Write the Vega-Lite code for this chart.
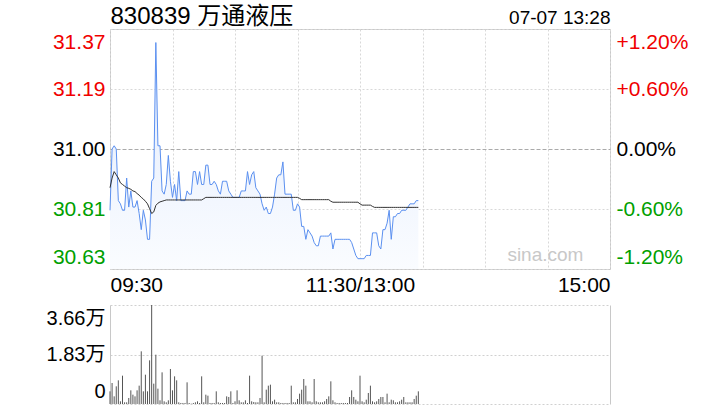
{
"$schema": "https://vega.github.io/schema/vega-lite/v6.json",
"background": "white",
"padding": {"left": 46, "top": 3, "right": 10, "bottom": 5},
"bounds": "flush",
"spacing": 36,
"config": {"font": "Liberation Sans, Noto Sans CJK SC", "view": {"stroke": "#c8c8c8"}, "axis": {"labelFont": "Liberation Sans, Noto Sans CJK SC", "titleFont": "Liberation Sans, Noto Sans CJK SC"}},
"data": {"values": [
{"m":0,"p":30.81,"avg":30.88,"v":4680},{"m":1,"p":31.00,"avg":30.91,"v":7760},{"m":2,"p":31.01,"avg":30.93,"v":2830},{"m":3,"p":31.00,"avg":30.92,"v":6530},{"m":4,"p":30.84,"avg":30.91,"v":8750},{"m":5,"p":30.83,"avg":30.895,"v":990},{"m":6,"p":30.81,"avg":30.89,"v":10470},{"m":7,"p":30.81,"avg":30.885,"v":620},{"m":8,"p":30.91,"avg":30.88,"v":620},{"m":9,"p":30.82,"avg":30.878,"v":2220},
{"m":10,"p":30.87,"avg":30.875,"v":5050},{"m":11,"p":30.82,"avg":30.87,"v":3450},{"m":12,"p":30.82,"avg":30.868,"v":2830},{"m":13,"p":30.84,"avg":30.862,"v":5050},{"m":14,"p":30.80,"avg":30.857,"v":6780},{"m":15,"p":30.75,"avg":30.85,"v":19470},{"m":16,"p":30.81,"avg":30.845,"v":4680},{"m":17,"p":30.78,"avg":30.838,"v":10840},{"m":18,"p":30.72,"avg":30.83,"v":4680},{"m":19,"p":30.72,"avg":30.815,"v":16140},
{"m":20,"p":30.90,"avg":30.80,"v":36600},{"m":21,"p":30.91,"avg":30.805,"v":7520},{"m":22,"p":31.33,"avg":30.825,"v":18230},{"m":23,"p":31.01,"avg":30.832,"v":5670},{"m":24,"p":31.01,"avg":30.836,"v":1360},{"m":25,"p":30.87,"avg":30.838,"v":11700},{"m":26,"p":30.86,"avg":30.84,"v":990},{"m":27,"p":30.89,"avg":30.842,"v":620},{"m":28,"p":30.98,"avg":30.842,"v":1360},{"m":29,"p":30.90,"avg":30.842,"v":12940},
{"m":30,"p":30.85,"avg":30.842,"v":5050},{"m":31,"p":30.89,"avg":30.842,"v":10230},{"m":32,"p":30.84,"avg":30.842,"v":8750},{"m":33,"p":30.93,"avg":30.842,"v":620},{"m":34,"p":30.84,"avg":30.842,"v":370},{"m":35,"p":30.84,"avg":30.842,"v":370},{"m":36,"p":30.84,"avg":30.842,"v":370},{"m":37,"p":30.87,"avg":30.842,"v":8010},{"m":38,"p":30.86,"avg":30.842,"v":370},{"m":39,"p":30.86,"avg":30.842,"v":120},
{"m":40,"p":30.93,"avg":30.842,"v":370},{"m":41,"p":30.93,"avg":30.842,"v":620},{"m":42,"p":30.89,"avg":30.842,"v":990},{"m":43,"p":30.93,"avg":30.842,"v":370},{"m":44,"p":30.89,"avg":30.842,"v":10230},{"m":45,"p":30.89,"avg":30.846,"v":620},{"m":46,"p":30.95,"avg":30.85,"v":3450},{"m":47,"p":30.95,"avg":30.85,"v":3080},{"m":48,"p":30.89,"avg":30.85,"v":370},{"m":49,"p":30.89,"avg":30.85,"v":370},
{"m":50,"p":30.90,"avg":30.85,"v":370},{"m":51,"p":30.89,"avg":30.85,"v":4680},{"m":52,"p":30.87,"avg":30.85,"v":620},{"m":53,"p":30.86,"avg":30.85,"v":370},{"m":54,"p":30.90,"avg":30.85,"v":370},{"m":55,"p":30.90,"avg":30.85,"v":370},{"m":56,"p":30.90,"avg":30.85,"v":2830},{"m":57,"p":30.87,"avg":30.85,"v":2590},{"m":58,"p":30.86,"avg":30.85,"v":4680},{"m":59,"p":30.85,"avg":30.85,"v":370},
{"m":60,"p":30.85,"avg":30.85,"v":990},{"m":61,"p":30.85,"avg":30.85,"v":5050},{"m":62,"p":30.85,"avg":30.85,"v":1360},{"m":63,"p":30.87,"avg":30.85,"v":620},{"m":64,"p":30.87,"avg":30.85,"v":620},{"m":65,"p":30.87,"avg":30.85,"v":1360},{"m":66,"p":30.93,"avg":30.85,"v":370},{"m":67,"p":30.89,"avg":30.85,"v":10470},{"m":68,"p":30.92,"avg":30.85,"v":990},{"m":69,"p":30.93,"avg":30.85,"v":740},
{"m":70,"p":30.88,"avg":30.85,"v":620},{"m":71,"p":30.87,"avg":30.85,"v":620},{"m":72,"p":30.86,"avg":30.85,"v":2220},{"m":73,"p":30.83,"avg":30.85,"v":17860},{"m":74,"p":30.81,"avg":30.85,"v":620},{"m":75,"p":30.82,"avg":30.85,"v":5300},{"m":76,"p":30.80,"avg":30.85,"v":6780},{"m":77,"p":30.80,"avg":30.85,"v":7150},{"m":78,"p":30.82,"avg":30.85,"v":990},{"m":79,"p":30.86,"avg":30.85,"v":1600},
{"m":80,"p":30.91,"avg":30.85,"v":620},{"m":81,"p":30.92,"avg":30.85,"v":620},{"m":82,"p":30.92,"avg":30.85,"v":370},{"m":83,"p":30.96,"avg":30.85,"v":370},{"m":84,"p":30.86,"avg":30.85,"v":370},{"m":85,"p":30.86,"avg":30.85,"v":370},{"m":86,"p":30.86,"avg":30.85,"v":370},{"m":87,"p":30.86,"avg":30.85,"v":6780},{"m":88,"p":30.81,"avg":30.85,"v":620},{"m":89,"p":30.81,"avg":30.85,"v":620},
{"m":90,"p":30.83,"avg":30.85,"v":1850},{"m":91,"p":30.82,"avg":30.847,"v":3820},{"m":92,"p":30.76,"avg":30.843,"v":5300},{"m":93,"p":30.76,"avg":30.843,"v":9240},{"m":94,"p":30.72,"avg":30.843,"v":6780},{"m":95,"p":30.75,"avg":30.843,"v":990},{"m":96,"p":30.74,"avg":30.843,"v":990},{"m":97,"p":30.73,"avg":30.843,"v":620},{"m":98,"p":30.71,"avg":30.843,"v":9240},{"m":99,"p":30.70,"avg":30.843,"v":990},
{"m":100,"p":30.70,"avg":30.843,"v":620},{"m":101,"p":30.73,"avg":30.843,"v":620},{"m":102,"p":30.73,"avg":30.843,"v":620},{"m":103,"p":30.73,"avg":30.843,"v":990},{"m":104,"p":30.73,"avg":30.843,"v":1850},{"m":105,"p":30.73,"avg":30.843,"v":2830},{"m":106,"p":30.74,"avg":30.838,"v":8380},{"m":107,"p":30.69,"avg":30.835,"v":1360},{"m":108,"p":30.72,"avg":30.835,"v":620},{"m":109,"p":30.72,"avg":30.835,"v":370},
{"m":110,"p":30.72,"avg":30.835,"v":370},{"m":111,"p":30.72,"avg":30.835,"v":370},{"m":112,"p":30.72,"avg":30.835,"v":370},{"m":113,"p":30.72,"avg":30.835,"v":370},{"m":114,"p":30.72,"avg":30.835,"v":370},{"m":115,"p":30.72,"avg":30.835,"v":2590},{"m":116,"p":30.71,"avg":30.835,"v":5050},{"m":117,"p":30.69,"avg":30.835,"v":2590},{"m":118,"p":30.67,"avg":30.835,"v":1600},{"m":119,"p":30.66,"avg":30.835,"v":990},
{"m":120,"p":30.66,"avg":30.83,"v":10470},{"m":121,"p":30.66,"avg":30.826,"v":990},{"m":122,"p":30.66,"avg":30.826,"v":620},{"m":123,"p":30.67,"avg":30.826,"v":1600},{"m":124,"p":30.67,"avg":30.826,"v":4070},{"m":125,"p":30.67,"avg":30.826,"v":6780},{"m":126,"p":30.74,"avg":30.822,"v":990},{"m":127,"p":30.74,"avg":30.819,"v":620},{"m":128,"p":30.74,"avg":30.819,"v":990},{"m":129,"p":30.70,"avg":30.819,"v":1850},
{"m":130,"p":30.69,"avg":30.819,"v":2590},{"m":131,"p":30.75,"avg":30.819,"v":2590},{"m":132,"p":30.75,"avg":30.819,"v":620},{"m":133,"p":30.77,"avg":30.819,"v":3820},{"m":134,"p":30.81,"avg":30.819,"v":620},{"m":135,"p":30.72,"avg":30.819,"v":1600},{"m":136,"p":30.79,"avg":30.819,"v":1360},{"m":137,"p":30.79,"avg":30.819,"v":620},{"m":138,"p":30.80,"avg":30.819,"v":620},{"m":139,"p":30.80,"avg":30.819,"v":990},
{"m":140,"p":30.81,"avg":30.819,"v":1600},{"m":141,"p":30.81,"avg":30.819,"v":2590},{"m":142,"p":30.81,"avg":30.819,"v":620},{"m":143,"p":30.82,"avg":30.819,"v":620},{"m":144,"p":30.83,"avg":30.819,"v":620},{"m":145,"p":30.83,"avg":30.819,"v":620},{"m":146,"p":30.83,"avg":30.819,"v":1850},{"m":147,"p":30.84,"avg":30.819,"v":3080},{"m":148,"p":30.84,"avg":30.819,"v":4680}
]},
"vconcat": [
{
 "width": 500, "height": 240,
 "layer": [
  {"mark": {"type": "area", "line": false, "color": {"gradient": "linear", "x1": 0, "y1": 0, "x2": 0, "y2": 1, "stops": [{"offset": 0, "color": "#e2ebfc"}, {"offset": 1, "color": "#fafcff"}]}},
   "encoding": {
    "x": {"field": "m", "type": "quantitative", "scale": {"domain": [0, 240], "nice": false, "zero": false},
      "axis": {"values": [0,30,60,90,120,150,180,210,240], "title": null, "ticks": false, "domain": false, "grid": true, "gridColor": "#d8d8d8", "gridDash": [2,2], "labelFlush": true, "labelOverlap": false, "labelFontSize": 21, "labelColor": "#000", "labelPadding": 5,
        "labelExpr": "datum.value == 0 ? '09:30' : datum.value == 120 ? '11:30/13:00' : datum.value == 240 ? '15:00' : ''"}},
    "y": {"field": "p", "type": "quantitative", "scale": {"domain": [30.628, 31.372], "nice": false, "zero": false},
      "axis": {"values": [30.628, 30.814, 31, 31.186, 31.372], "format": ".2f", "ticks": false, "domain": false, "grid": true,
        "gridColor": {"condition": {"test": "abs(datum.value - 31) < 0.001", "value": "#aaaaaa"}, "value": "#d8d8d8"},
        "gridDash": {"condition": {"test": "abs(datum.value - 31) < 0.001", "value": [4, 2]}, "value": [2, 2]},
        "labelFlush": true, "labelFlushOffset": -2, "labelFontSize": 21, "labelPadding": 5,
        "labelColor": {"condition": [{"test": "datum.value > 31.001", "value": "#f00000"}, {"test": "datum.value < 30.999", "value": "#00a000"}], "value": "#000000"},
        "title": "830839 万通液压", "titleAngle": 0, "titleAlign": "left", "titleBaseline": "alphabetic", "titleX": 0, "titleY": -6, "titleFontSize": 24, "titleFontWeight": "normal", "titleColor": "#000"}},
    "y2": {"datum": 30.628}
   }},
  {"mark": {"type": "line", "color": "#5b90f0", "strokeWidth": 1},
   "encoding": {"x": {"field": "m", "type": "quantitative"}, "y": {"field": "p", "type": "quantitative", "axis": null}}},
  {"mark": {"type": "line", "color": "#333333", "strokeWidth": 1},
   "encoding": {"x": {"field": "m", "type": "quantitative"},
    "y": {"field": "avg", "type": "quantitative",
      "axis": {"orient": "right", "values": [30.628, 30.814, 31, 31.186, 31.372], "ticks": false, "domain": false, "grid": false, "labelFlush": true, "labelFlushOffset": -2, "labelFontSize": 21, "labelPadding": 6,
        "labelExpr": "abs(datum.value - 31) < 0.001 ? '0.00%' : (datum.value > 31 ? '+' : '-') + format(abs(datum.value - 31) / 31 * 100, '.2f') + '%'",
        "labelColor": {"condition": [{"test": "datum.value > 31.001", "value": "#f00000"}, {"test": "datum.value < 30.999", "value": "#00a000"}], "value": "#000000"},
        "title": "07-07 13:28", "titleAngle": 0, "titleAlign": "right", "titleBaseline": "alphabetic", "titleX": 0, "titleY": -6, "titleFontSize": 19, "titleFontWeight": "normal", "titleColor": "#000"}}}},
  {"data": {"values": [{"t": "sina.com"}]},
   "mark": {"type": "text", "fontSize": 19, "color": "#c8c8c8", "align": "center", "baseline": "middle"},
   "encoding": {"text": {"field": "t"}, "x": {"datum": 209}, "y": {"datum": 30.671, "axis": null}}}
 ],
 "resolve": {"axis": {"y": "independent"}}
},
{
 "width": 500, "height": 99,
 "view": {"stroke": null},
 "layer": [
  {"mark": {"type": "rule", "color": "#555555", "strokeWidth": 1},
   "encoding": {
    "x": {"field": "m", "type": "quantitative", "scale": {"domain": [0, 240], "nice": false, "zero": false}, "axis": null},
    "y": {"field": "v", "type": "quantitative", "scale": {"domain": [0, 36600], "nice": false},
      "axis": {"values": [0, 18300, 36600], "title": null, "ticks": false, "domain": true, "domainColor": "#c8c8c8", "grid": true, "gridColor": "#d0d0d0", "gridDash": [2, 2], "labelFlush": true, "labelFlushOffset": -3, "labelFontSize": 20, "labelPadding": 5, "labelColor": "#000",
        "labelExpr": "datum.value == 0 ? '0' : format(datum.value / 10000, '.2f') + '万'"}},
    "y2": {"datum": 0}}},
  {"mark": {"type": "rule", "opacity": 0},
   "encoding": {
    "x": {"field": "m", "type": "quantitative"},
    "y": {"field": "v", "type": "quantitative", "axis": {"orient": "right", "labels": false, "ticks": false, "grid": false, "domain": true, "domainColor": "#c8c8c8", "title": null}},
    "y2": {"datum": 0}}}
 ],
 "resolve": {"axis": {"y": "independent"}}
}
]
}
